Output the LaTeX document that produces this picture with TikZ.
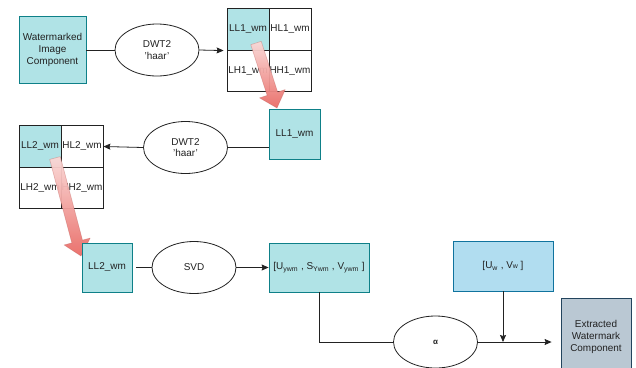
\documentclass[tikz,border=0pt]{standalone}
\usepackage{fontspec}
\setmainfont{Liberation Sans}
\usetikzlibrary{arrows.meta,calc,shapes.geometric}

\definecolor{tealfill}{HTML}{B0E3E6}
\definecolor{tealline}{HTML}{0E8088}
\definecolor{bluefill}{HTML}{B1DDF0}
\definecolor{blueline}{HTML}{10739E}
\definecolor{grayfill}{HTML}{BAC8D3}
\definecolor{grayline}{HTML}{23445D}
\definecolor{pinklight}{HTML}{FAD9D7}
\definecolor{pinkdark}{HTML}{EA6B66}
\definecolor{pinkline}{HTML}{B85450}
\definecolor{ink}{HTML}{222222}

% wide shaded block arrow from #1 to the tip #2
\newcommand\blockarrow[2]{%
  \path[top color=pinklight, bottom color=pinkdark, opacity=0.95,
        draw=pinkline, draw opacity=0.35, line width=0.6bp, line join=round]
    ($(#1)!5.5bp!90:(#2)$)
    -- ($($(#2)!15bp!(#1)$)!5.5bp!90:(#2)$)
    -- ($($(#2)!15bp!(#1)$)!13.5bp!90:(#2)$)
    -- (#2)
    -- ($($(#2)!15bp!(#1)$)!13.5bp!-90:(#2)$)
    -- ($($(#2)!15bp!(#1)$)!5.5bp!-90:(#2)$)
    -- ($(#1)!5.5bp!-90:(#2)$) -- cycle;}

\begin{document}
\begin{tikzpicture}[x=1bp, y=-1bp,
  font=\fontsize{10}{11.8}\selectfont, text=ink,
  tealbox/.style={rectangle, draw=tealline, fill=tealfill, line width=0.8bp,
                  align=center, inner sep=1bp},
  oval/.style={ellipse, draw=ink, line width=0.8bp, minimum width=84bp,
               minimum height=52bp, inner sep=0pt, align=center},
  cell/.style={rectangle, draw=ink, line width=0.8bp, minimum width=42bp,
               minimum height=41.5bp, inner sep=0pt},
  link/.style={draw=ink, line width=0.8bp},
  arrowed/.style={link, -{Stealth[length=7bp,width=6bp,inset=1bp]}}]

\useasboundingbox (0,0) rectangle (636,367);
\clip (0,0) rectangle (636,367);
\fill[white] (0,0) rectangle (636,367);

% ---- first level decomposition
\node[tealbox, minimum width=67bp, minimum height=67bp] (wimg) at (52.5,50)
  {Watermarked\\Image\\Component};
\node[oval] (dwt1) at (157,50) {DWT2\\'haar'};

\node[cell, fill=tealfill] (ll1c) at (248,29.5) {};
\node[cell] (hl1c) at (290,29.5) {};
\node[cell] (lh1c) at (248,71) {};
\node[cell] (hh1c) at (290,71) {};
\node at (ll1c) {LL1\_wm};
\node at (hl1c) {HL1\_wm};
\node at (lh1c) {LH1\_wm};
\node at (hh1c) {HH1\_wm};

\node[tealbox, minimum width=51bp, minimum height=50bp] (ll1) at (294.5,134) {LL1\_wm};

\draw[link] (wimg.east) -- (dwt1.west);
\draw[arrowed, shorten >=3bp] (dwt1.east) -- (ll1c.south west);

\coordinate (ll1from) at (256,43);
\coordinate (ll1to) at (277,108);
\blockarrow{ll1from}{ll1to}

% ---- second level decomposition
\node[oval] (dwt2) at (185.5,147.5) {DWT2\\'haar'};

\node[cell, fill=tealfill] (ll2c) at (40,146.5) {};
\node[cell] (hl2c) at (82,146.5) {};
\node[cell] (lh2c) at (40,188) {};
\node[cell] (hh2c) at (82,188) {};
\node at (ll2c) {LL2\_wm};
\node at (hl2c) {HL2\_wm};
\node at (lh2c) {LH2\_wm};
\node at (hh2c) {HH2\_wm};

\draw[link] (dwt2.east -| ll1.west) -- (dwt2.east);
\draw[arrowed] (dwt2.west) -- (hl2c.east);

\coordinate (ll2from) at (55,158);
\coordinate (ll2to) at (81,256);
\blockarrow{ll2from}{ll2to}

% ---- SVD of the LL2 band
\node[tealbox, minimum width=50bp, minimum height=49bp] (ll2) at (107,267.5) {LL2\_wm};
\node[oval] (svd) at (194,267.5) {SVD};
\node[tealbox, minimum width=100bp, minimum height=49bp] (usv) at (319,267.5)
  {[U\textsubscript{ywm} , S\textsubscript{Ywm} , V\textsubscript{ywm} ]};

\draw[link, shorten <=4bp] (ll2.east) -- (svd.west);
\draw[arrowed] (svd.east) -- (usv.west);

% ---- extraction
\node[oval] (alpha) at (435.5,342) {\fontsize{8}{9}\selectfont\bfseries α};
\node[rectangle, draw=blueline, fill=bluefill, line width=0.8bp,
      minimum width=100bp, minimum height=50bp] (uw) at (503,266)
  {[U\textsubscript{w} , V{\scriptsize w} ]};
\node[rectangle, draw=grayline, fill=grayfill, line width=0.8bp, align=center,
      minimum width=70bp, minimum height=78bp] (ext) at (596,337)
  {Extracted\\Watermark\\Component};

\coordinate (join) at (uw.south |- alpha.east);
\draw[link] (usv.south) |- (alpha.west);
\draw[arrowed, shorten >=9bp] (alpha.east) -- (alpha.east -| ext.west);
\draw[arrowed] (uw.south) -- (join);
\end{tikzpicture}
\end{document}
